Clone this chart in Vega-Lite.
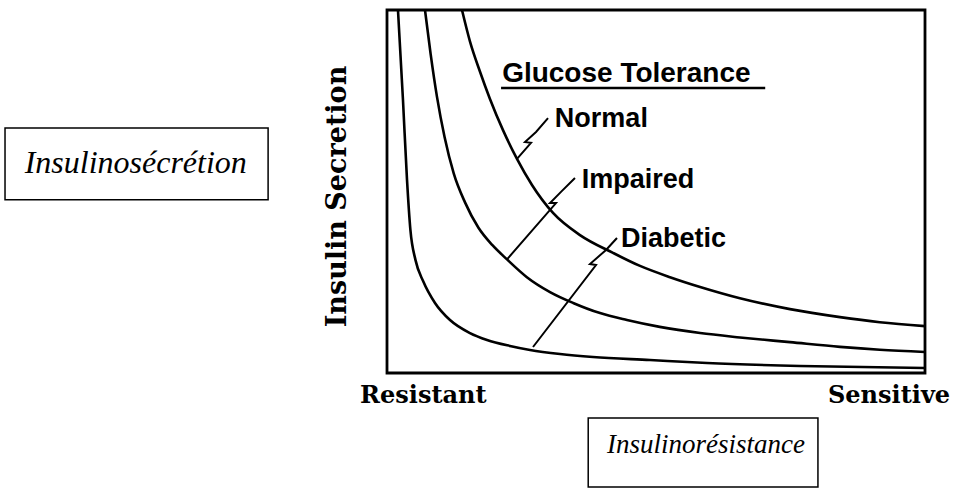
{
  "$schema": "https://vega.github.io/schema/vega-lite/v6.json",
  "width": 538,
  "height": 363,
  "autosize": "none",
  "padding": {"left": 387, "top": 10, "right": 29, "bottom": 115},
  "background": "white",
  "config": {"view": {"stroke": "black", "strokeWidth": 2.8}},
  "layer": [
    {
      "data": {"values": [
        {"curve": "Diabetic", "x": 2.04, "y": 100},
        {"curve": "Diabetic", "x": 2.97, "y": 75.2},
        {"curve": "Diabetic", "x": 3.72, "y": 53.2},
        {"curve": "Diabetic", "x": 4.35, "y": 39.4},
        {"curve": "Diabetic", "x": 5.3, "y": 31.1},
        {"curve": "Diabetic", "x": 6.75, "y": 25.2},
        {"curve": "Diabetic", "x": 8.92, "y": 19.3},
        {"curve": "Diabetic", "x": 11.71, "y": 14.6},
        {"curve": "Diabetic", "x": 15.43, "y": 11.0},
        {"curve": "Diabetic", "x": 18.59, "y": 9.09},
        {"curve": "Diabetic", "x": 22.86, "y": 7.44},
        {"curve": "Diabetic", "x": 26.58, "y": 6.34},
        {"curve": "Diabetic", "x": 32.16, "y": 5.23},
        {"curve": "Diabetic", "x": 38.29, "y": 4.41},
        {"curve": "Diabetic", "x": 48.88, "y": 3.58},
        {"curve": "Diabetic", "x": 59.48, "y": 2.75},
        {"curve": "Diabetic", "x": 76.77, "y": 1.93},
        {"curve": "Diabetic", "x": 100, "y": 1.38},
        {"curve": "Impaired", "x": 7.06, "y": 100},
        {"curve": "Impaired", "x": 8.1, "y": 88.0},
        {"curve": "Impaired", "x": 9.3, "y": 76.0},
        {"curve": "Impaired", "x": 10.7, "y": 65.0},
        {"curve": "Impaired", "x": 12.4, "y": 55.0},
        {"curve": "Impaired", "x": 14.5, "y": 47.0},
        {"curve": "Impaired", "x": 17.0, "y": 40.0},
        {"curve": "Impaired", "x": 19.6, "y": 35.2},
        {"curve": "Impaired", "x": 22.3, "y": 31.3},
        {"curve": "Impaired", "x": 26.0, "y": 26.4},
        {"curve": "Impaired", "x": 30.3, "y": 22.3},
        {"curve": "Impaired", "x": 34.6, "y": 19.3},
        {"curve": "Impaired", "x": 39.6, "y": 16.5},
        {"curve": "Impaired", "x": 44.6, "y": 14.6},
        {"curve": "Impaired", "x": 50.7, "y": 12.7},
        {"curve": "Impaired", "x": 58.2, "y": 11.0},
        {"curve": "Impaired", "x": 65.6, "y": 9.8},
        {"curve": "Impaired", "x": 74.9, "y": 8.5},
        {"curve": "Impaired", "x": 84.2, "y": 7.2},
        {"curve": "Impaired", "x": 91.6, "y": 6.4},
        {"curve": "Impaired", "x": 100, "y": 5.79},
        {"curve": "Normal", "x": 13.94, "y": 100},
        {"curve": "Normal", "x": 15.43, "y": 91.3},
        {"curve": "Normal", "x": 17.29, "y": 83.0},
        {"curve": "Normal", "x": 19.14, "y": 75.5},
        {"curve": "Normal", "x": 21.56, "y": 66.9},
        {"curve": "Normal", "x": 24.16, "y": 59.0},
        {"curve": "Normal", "x": 26.95, "y": 51.8},
        {"curve": "Normal", "x": 30.86, "y": 44.1},
        {"curve": "Normal", "x": 35.87, "y": 38.0},
        {"curve": "Normal", "x": 42.01, "y": 33.1},
        {"curve": "Normal", "x": 47.03, "y": 29.5},
        {"curve": "Normal", "x": 52.6, "y": 26.4},
        {"curve": "Normal", "x": 58.2, "y": 23.7},
        {"curve": "Normal", "x": 65.6, "y": 20.6},
        {"curve": "Normal", "x": 74.9, "y": 17.6},
        {"curve": "Normal", "x": 84.2, "y": 15.4},
        {"curve": "Normal", "x": 91.6, "y": 14.0},
        {"curve": "Normal", "x": 100, "y": 12.9}
      ]},
      "mark": {"type": "line", "color": "black", "strokeWidth": 2.6, "interpolate": "monotone"},
      "encoding": {
        "x": {"field": "x", "type": "quantitative", "scale": {"domain": [0, 100], "nice": false, "zero": false}, "axis": null},
        "y": {"field": "y", "type": "quantitative", "scale": {"domain": [0, 100], "nice": false, "zero": false},
          "axis": {"title": "Insulin Secretion", "labels": false, "ticks": false, "domain": false, "grid": false,
            "titleFont": "DejaVu Serif", "titleFontWeight": "bold", "titleFontSize": 27, "titleColor": "black", "titlePadding": 36, "titleY": 186}},
        "detail": {"field": "curve"}
      }
    },
    {
      "data": {"values": [
        {"leader": "Normal", "i": 1, "x": 24.16, "y": 59.0},
        {"leader": "Normal", "i": 2, "x": 26.77, "y": 63.4},
        {"leader": "Normal", "i": 3, "x": 25.65, "y": 63.6},
        {"leader": "Normal", "i": 4, "x": 27.7, "y": 66.4},
        {"leader": "Normal", "i": 5, "x": 29.93, "y": 70.2},
        {"leader": "Impaired", "i": 1, "x": 22.3, "y": 31.3},
        {"leader": "Impaired", "i": 2, "x": 31.41, "y": 46.8},
        {"leader": "Impaired", "i": 3, "x": 30.3, "y": 46.8},
        {"leader": "Impaired", "i": 4, "x": 32.34, "y": 49.9},
        {"leader": "Impaired", "i": 5, "x": 34.94, "y": 53.7},
        {"leader": "Diabetic", "i": 1, "x": 27.14, "y": 7.16},
        {"leader": "Diabetic", "i": 2, "x": 38.85, "y": 29.75},
        {"leader": "Diabetic", "i": 3, "x": 37.73, "y": 30.0},
        {"leader": "Diabetic", "i": 4, "x": 40.71, "y": 33.9},
        {"leader": "Diabetic", "i": 5, "x": 42.75, "y": 37.2}
      ]},
      "mark": {"type": "line", "color": "black", "strokeWidth": 2},
      "encoding": {
        "x": {"field": "x", "type": "quantitative"},
        "y": {"field": "y", "type": "quantitative"},
        "detail": {"field": "leader"},
        "order": {"field": "i", "type": "quantitative"}
      }
    },
    {
      "data": {"values": [
        {"x": 21.4, "y": 80.2, "label": "Glucose Tolerance"}
      ]},
      "mark": {"type": "text", "font": "Liberation Sans", "fontWeight": "bold", "fontSize": 28, "align": "left", "baseline": "alphabetic", "color": "black"},
      "encoding": {
        "x": {"field": "x", "type": "quantitative"},
        "y": {"field": "y", "type": "quantitative"},
        "text": {"field": "label"}
      }
    },
    {
      "data": {"values": [
        {"x": 31.2, "y": 67.8, "label": "Normal"},
        {"x": 36.2, "y": 51.0, "label": "Impaired"},
        {"x": 43.5, "y": 34.7, "label": "Diabetic"}
      ]},
      "mark": {"type": "text", "font": "Liberation Sans", "fontWeight": "bold", "fontSize": 27, "align": "left", "baseline": "alphabetic", "color": "black"},
      "encoding": {
        "x": {"field": "x", "type": "quantitative"},
        "y": {"field": "y", "type": "quantitative"},
        "text": {"field": "label"}
      }
    },
    {
      "data": {"values": [{"x": 21.2, "x2": 70.3, "y": 78.5}]},
      "mark": {"type": "rule", "color": "black", "strokeWidth": 2.5},
      "encoding": {
        "x": {"field": "x", "type": "quantitative"},
        "x2": {"field": "x2"},
        "y": {"field": "y", "type": "quantitative"}
      }
    },
    {
      "data": {"values": [
        {"x": -5.0, "y": -8.3, "label": "Resistant"},
        {"x": 81.97, "y": -8.3, "label": "Sensitive"}
      ]},
      "mark": {"type": "text", "font": "DejaVu Serif", "fontWeight": "bold", "fontSize": 24, "align": "left", "baseline": "alphabetic", "color": "black"},
      "encoding": {
        "x": {"field": "x", "type": "quantitative"},
        "y": {"field": "y", "type": "quantitative"},
        "text": {"field": "label"}
      }
    },
    {
      "data": {"values": [
        {"x": -71.0, "x2": -22.1, "y": 67.5, "y2": 47.7},
        {"x": 37.4, "x2": 80.1, "y": -12.4, "y2": -31.4}
      ]},
      "mark": {"type": "rect", "fill": "white", "stroke": "black", "strokeWidth": 1.5},
      "encoding": {
        "x": {"field": "x", "type": "quantitative"},
        "x2": {"field": "x2"},
        "y": {"field": "y", "type": "quantitative"},
        "y2": {"field": "y2"}
      }
    },
    {
      "data": {"values": [{"x": -46.7, "y": 57.9, "label": "Insulinosécrétion"}]},
      "mark": {"type": "text", "font": "Liberation Serif", "fontStyle": "italic", "fontSize": 32, "align": "center", "baseline": "middle", "color": "black"},
      "encoding": {
        "x": {"field": "x", "type": "quantitative"},
        "y": {"field": "y", "type": "quantitative"},
        "text": {"field": "label"}
      }
    },
    {
      "data": {"values": [{"x": 59.3, "y": -19.8, "label": "Insulinorésistance"}]},
      "mark": {"type": "text", "font": "Liberation Serif", "fontStyle": "italic", "fontSize": 27, "align": "center", "baseline": "middle", "color": "black"},
      "encoding": {
        "x": {"field": "x", "type": "quantitative"},
        "y": {"field": "y", "type": "quantitative"},
        "text": {"field": "label"}
      }
    }
  ]
}
